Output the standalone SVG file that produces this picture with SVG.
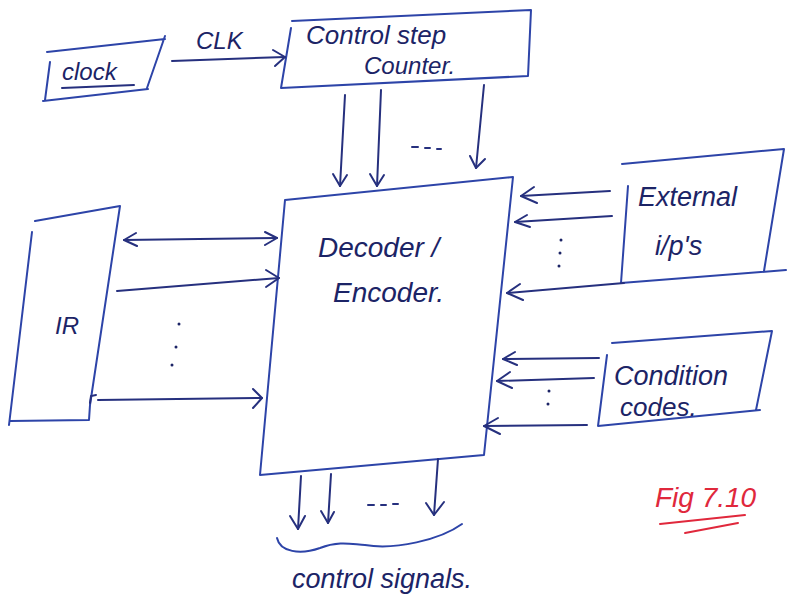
<svg xmlns="http://www.w3.org/2000/svg" width="787" height="598" viewBox="0 0 787 598">
<defs>
<style>
.box{fill:none;stroke:#2d44a8;stroke-width:2;stroke-linecap:round;stroke-linejoin:round}
.wire{fill:none;stroke:#26307e;stroke-width:2;stroke-linecap:round}
.head{fill:none;stroke:#26307e;stroke-width:2;stroke-linecap:round;stroke-linejoin:round}
.t{font-family:"Liberation Sans",Arial,sans-serif;font-style:italic;fill:#1c2466}
.dot{fill:#1c2466}
.red{fill:none;stroke:#e0283c;stroke-width:2;stroke-linecap:round}
</style>
</defs>
<rect width="787" height="598" fill="#ffffff"/>
<g id="clock">
<path class="box" d="M47,52 L165,39 M165,36 L147,88 M43,101 L148,89 M50,62 L45,100"/>
<text class="t" x="62" y="80" font-size="24">clock</text>
<path class="wire" d="M62,88 L134,85"/>
</g>
<g id="counter">
<path class="box" d="M292,21 L531,10 L528,76 L281,88 M291,28 L281,88"/>
<text class="t" x="306" y="44" font-size="26">Control step</text>
<text class="t" x="364" y="74" font-size="24">Counter.</text>
</g>
<g id="decoder">
<path class="box" d="M285,200 L513,177 L484,455 L260,475 Z"/>
<text class="t" x="318" y="257" font-size="28">Decoder /</text>
<text class="t" x="333" y="302" font-size="28">Encoder.</text>
</g>
<g id="ir">
<path class="box" d="M35,221 L120,206 L90,405 L89,420 L10,421 M32,232 L9,425"/>
<text class="t" x="55" y="334" font-size="24">IR</text>
</g>
<g id="external">
<path class="box" d="M622,164 L784,149 L764,271 M628,186 L621,283 L786,270"/>
<text class="t" x="638" y="206" font-size="27">External</text>
<text class="t" x="655" y="255" font-size="27">i/p's</text>
</g>
<g id="condition">
<path class="box" d="M612,343 L772,331 L756,410 M607,355 L598,426 L760,410"/>
<text class="t" x="614" y="385" font-size="27">Condition</text>
<text class="t" x="620" y="416" font-size="26">codes.</text>
</g>
<g id="connectors">
<path class="wire" d="M172,61 L285,57"/>
<path class="head" d="M273,50 L285,57 L275,66"/>
<text class="t" x="196" y="49" font-size="24">CLK</text>
<path class="wire" d="M345,95 L340,186"/>
<path class="head" d="M333,174 L340,186 L347,175"/>
<path class="wire" d="M381,90 L377,186"/>
<path class="head" d="M370,174 L377,186 L384,175"/>
<path class="wire" d="M484,85 L476,168"/>
<path class="head" d="M470,156 L476,168 L485,159"/>
<path class="wire" d="M412,147 L418,147 M425,148 L430,148 M437,149 L441,149"/>
<path class="wire" d="M124,240 L277,238"/>
<path class="head" d="M136,233 L124,240 L137,246 M265,232 L277,238 L265,245"/>
<path class="wire" d="M117,291 L279,278"/>
<path class="head" d="M266,270 L279,278 L266,287"/>
<circle class="dot" cx="179" cy="324" r="1.5"/>
<circle class="dot" cx="176" cy="347" r="1.5"/>
<circle class="dot" cx="172" cy="365" r="1.5"/>
<path class="wire" d="M98,400 L262,398 M90,403 L91,396 L96,395"/>
<path class="head" d="M253,389 L262,398 L253,408"/>
<path class="wire" d="M610,191 L521,196"/>
<path class="head" d="M534,187 L521,196 L537,203"/>
<path class="wire" d="M612,216 L515,222"/>
<path class="head" d="M527,215 L515,222 L530,227"/>
<circle class="dot" cx="561" cy="240" r="1.5"/>
<circle class="dot" cx="560" cy="253" r="1.5"/>
<circle class="dot" cx="559" cy="266" r="1.5"/>
<path class="wire" d="M624,283 L507,293"/>
<path class="head" d="M520,284 L507,293 L523,300"/>
<path class="wire" d="M599,358 L503,359"/>
<path class="head" d="M515,352 L503,359 L517,365"/>
<path class="wire" d="M594,378 L497,381"/>
<path class="head" d="M510,372 L497,381 L512,388"/>
<circle class="dot" cx="549" cy="391" r="1.5"/>
<circle class="dot" cx="548" cy="404" r="1.5"/>
<path class="wire" d="M587,425 L484,426"/>
<path class="head" d="M498,418 L484,426 L500,434"/>
<path class="wire" d="M301,476 L298,529"/>
<path class="head" d="M290,516 L298,529 L305,516"/>
<path class="wire" d="M331,474 L328,523"/>
<path class="head" d="M321,511 L328,523 L334,512"/>
<path class="wire" d="M438,459 L434,515"/>
<path class="head" d="M426,503 L434,515 L444,502"/>
<path class="wire" d="M368,505 L374,505 M381,505 L386,505 M393,504 L398,504"/>
<path class="box" d="M277,538 C280,552 300,555 320,548 C340,540 355,545 365,545 C395,550 440,540 462,524"/>
<text class="t" x="292" y="588" font-size="27">control signals.</text>
</g>
<g id="fig">
<text x="655" y="507" font-family="Liberation Sans,Arial,sans-serif" font-style="italic" font-size="28" fill="#e0283c">Fig 7.10</text>
<path class="red" d="M660,524 L745,515 M685,533 L738,523"/>
</g>
</svg>
